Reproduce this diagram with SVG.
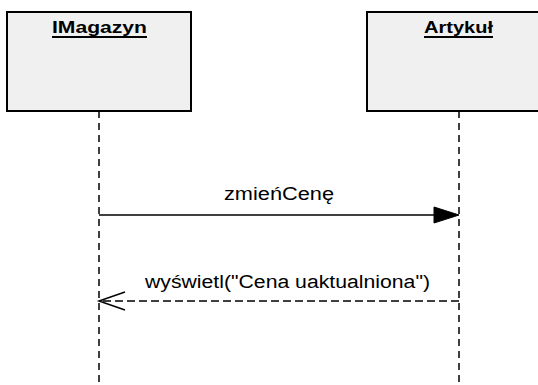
<svg xmlns="http://www.w3.org/2000/svg" width="538" height="385" viewBox="0 0 538 385">
<style>
.box{fill:#f0f0f0;stroke:#000;stroke-width:2}
.title{font-family:"Liberation Sans",Arial,sans-serif;font-weight:bold;font-size:17px;fill:#000}
.ul{stroke:#000;stroke-width:2}
.life{stroke:#000;stroke-width:1.5;stroke-dasharray:7 5;fill:none}
.msg{stroke:#000;stroke-width:1.5;fill:none}
.ret{stroke:#000;stroke-width:1.5;stroke-dasharray:8 4;fill:none}
.lbl{font-family:"Liberation Sans",Arial,sans-serif;font-size:18px;fill:#000}
</style>
<rect width="538" height="385" fill="#fff"/>
<g id="imagazyn">
<rect class="box" x="7" y="12" width="184" height="99"/>
<text class="title" x="52" y="33" textLength="95" lengthAdjust="spacingAndGlyphs">IMagazyn</text>
<line class="ul" x1="52" y1="37" x2="147" y2="37"/>
<line class="life" x1="99" y1="111" x2="99" y2="385"/>
</g>
<g id="artykul">
<rect class="box" x="367" y="12" width="184" height="99"/>
<text class="title" x="424" y="33" textLength="69" lengthAdjust="spacingAndGlyphs">Artykuł</text>
<line class="ul" x1="424" y1="37" x2="493" y2="37"/>
<line class="life" x1="459" y1="111" x2="459" y2="385"/>
</g>
<g id="connectors">
<g id="msg1">
<line class="msg" x1="99" y1="215" x2="435" y2="215"/>
<polygon points="459,215 434,207 434,223" fill="#000" stroke="#000" stroke-width="1"/>
<text class="lbl" x="224" y="200" textLength="110" lengthAdjust="spacingAndGlyphs">zmieńCenę</text>
</g>
<g id="msg2">
<line class="ret" x1="459" y1="301" x2="100" y2="301"/>
<polyline class="msg" points="125,292 99,301 125,310"/>
<text class="lbl" x="145" y="288" textLength="285" lengthAdjust="spacingAndGlyphs">wyświetl("Cena uaktualniona")</text>
</g>
</g>
</svg>
